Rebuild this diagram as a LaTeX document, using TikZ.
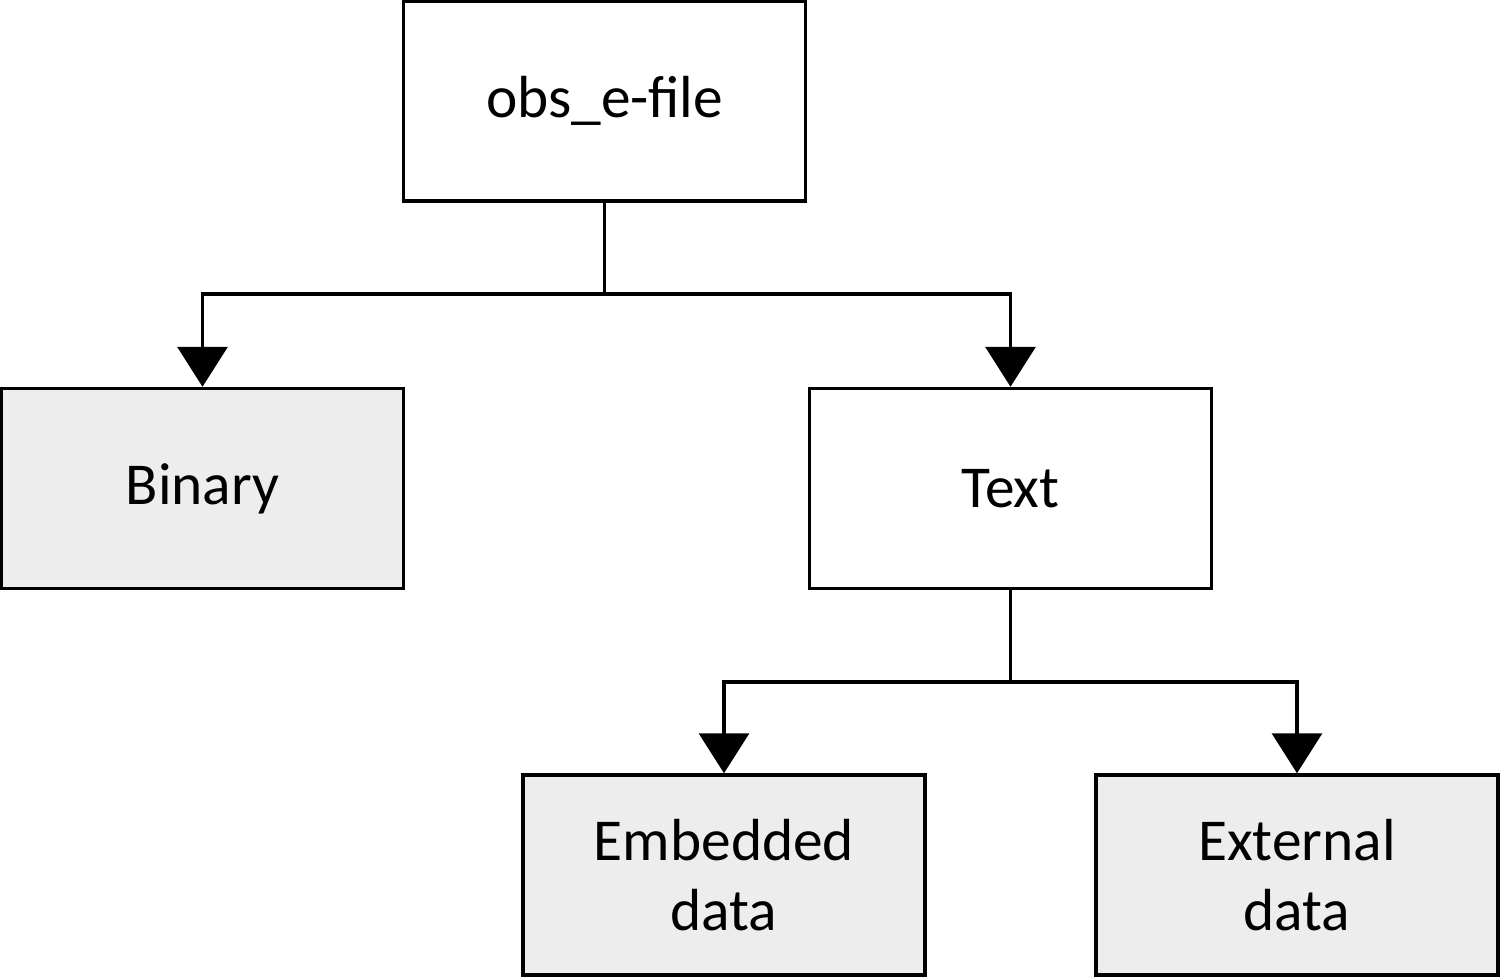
\documentclass[tikz,border=0pt]{standalone}
\usepackage{fontspec}
\setmainfont{Carlito}
\usetikzlibrary{arrows.meta}
\definecolor{boxgray}{HTML}{EDEDED}

\begin{document}
\begin{tikzpicture}[x=1cm, y=1cm,
    every node/.style={font=\fontsize{16.9}{20.1}\selectfont},
    filebox/.style={draw=black, line width=0.035cm, fill=white,
      minimum width=4.02cm, minimum height=2.0cm, align=center,
      inner sep=0pt},
    leafbox/.style={filebox, fill=boxgray},
    link/.style={line width=0.035cm, miter limit=10},
    linkarrow/.style={link, -{Triangle[width=0.5cm, length=0.4cm]}}]

  \useasboundingbox (0, 0) rectangle (15.0, -9.78);

  % ================================================================
  % Boxes
  % ================================================================

  \node[filebox] (efile) at (6.045, -1.01) {obs\_e-file};

  \node[leafbox] (binary) at (2.025, -4.885) {Binary};
  \node[filebox] (text) at (10.105, -4.885) {Text};

  \node[leafbox] (embedded) at (7.24, -8.75) {Embedded\\data};
  \node[leafbox] (external) at (12.97, -8.75) {External\\data};

  % ================================================================
  % Arrows
  % ================================================================

  % --- obs_e-file -> Binary / Text ---
  \coordinate (split1) at (6.045, -2.94);
  \draw[link] (efile.south) -- (split1);
  \draw[linkarrow] (split1) -| (binary.north);
  \draw[linkarrow] (split1) -| (text.north);

  % --- Text -> Embedded / External ---
  \coordinate (split2) at (10.105, -6.82);
  \draw[link] (text.south) -- (split2);
  \draw[linkarrow] (split2) -| (embedded.north);
  \draw[linkarrow] (split2) -| (external.north);

\end{tikzpicture}
\end{document}
